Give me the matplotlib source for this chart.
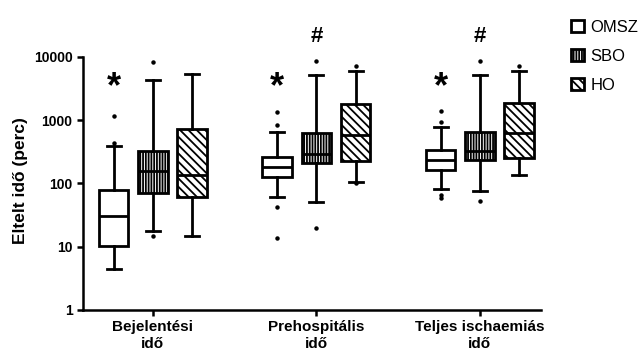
import matplotlib.pyplot as plt
from matplotlib.patches import Patch

plt.rcParams['font.family'] = ['Liberation Sans', 'DejaVu Sans']
plt.rcParams['hatch.linewidth'] = 1.3

# -------------------------
# Data
# -------------------------

categories = ["Bejelentési\nidő", "Prehospitális\nidő", "Teljes ischaemiás\nidő"]
groups = ["OMSZ", "SBO", "HO"]

# per category, per group: whisker low, Q1, median, Q3, whisker high
whislo = [[4.5, 17.7, 15], [61, 50, 107], [81, 76, 136]]
q1 = [[10.3, 70, 62], [128, 208, 227], [162, 235, 256]]
med = [[30, 158, 138], [184, 293, 585], [235, 330, 636]]
q3 = [[79, 330, 736], [260, 621, 1828], [335, 659, 1897]]
whishi = [[392, 4330, 5390], [645, 5130, 6010], [773, 5220, 6080]]
fliers = [
    [[442, 1167], [14.8, 8430], []],
    [[1365, 841, 43, 13.9], [8750, 19.6], [7200, 100.7]],
    [[1400, 927, 66.5, 59], [8750, 53.5], [7250]],
]

# significance marks: (category, group, symbol, y)
marks = [
    (0, 0, "*", 3200),
    (1, 0, "*", 3200),
    (2, 0, "*", 3200),
    (1, 1, "#", 21000),
    (2, 1, "#", 21000),
]

hatches = ["", "||||||", "\\\\\\\\"]
offsets = [-0.24, 0, 0.24]

# -------------------------
# Plot
# -------------------------

fig = plt.figure(figsize=(6.43, 3.53), dpi=100)
ax = fig.add_axes([0.129, 0.122, 0.712, 0.717])

lw = 2.0
for c in range(len(categories)):
    for g in range(len(groups)):
        stats = [{
            "whislo": whislo[c][g],
            "q1": q1[c][g],
            "med": med[c][g],
            "q3": q3[c][g],
            "whishi": whishi[c][g],
            "fliers": fliers[c][g],
        }]
        bp = ax.bxp(
            stats,
            positions=[c + 1 + offsets[g]],
            widths=0.18,
            capwidths=0.085,
            patch_artist=True,
            boxprops=dict(facecolor="white", edgecolor="black", linewidth=lw),
            medianprops=dict(color="black", linewidth=lw),
            whiskerprops=dict(color="black", linewidth=lw),
            capprops=dict(color="black", linewidth=lw),
            flierprops=dict(marker="o", markersize=2.2, markerfacecolor="black",
                            markeredgecolor="black"),
            manage_ticks=False,
        )
        bp["boxes"][0].set_hatch(hatches[g])

for c, g, sym, y in marks:
    ax.text(c + 1 + offsets[g], y, sym, ha="center", va="center",
            fontsize=26 if sym == "*" else 16, fontweight="bold", clip_on=False)

ax.set_yscale("log")
ax.set_ylim(1, 10000)
ax.set_yticks([1, 10, 100, 1000, 10000])
ax.set_yticklabels(["1", "10", "100", "1000", "10000"])
ax.minorticks_off()
ax.set_xlim(0.572, 3.373)
ax.set_xticks([1, 2, 3])
ax.set_xticklabels(categories, fontweight="bold", fontsize=11, linespacing=1.25)

for lbl in ax.get_yticklabels():
    lbl.set_fontweight("bold")
    lbl.set_fontsize(10)

ax.set_ylabel("Eltelt idő (perc)", fontweight="bold", fontsize=12.5)
ax.yaxis.set_label_coords(-0.12, 0.51)

ax.spines["top"].set_visible(False)
ax.spines["right"].set_visible(False)
ax.spines["left"].set_linewidth(1.8)
ax.spines["bottom"].set_linewidth(1.8)
ax.tick_params(width=1.8, length=4)

handles = [Patch(facecolor="white", edgecolor="black", linewidth=2.0, hatch=h)
           for h in hatches]
fig.legend(handles, groups, loc="upper left",
           bbox_to_anchor=(0.878, 0.963), frameon=False, fontsize=12,
           handlelength=0.75, handleheight=0.75, handletextpad=0.4,
           labelspacing=0.85, borderaxespad=0)

plt.savefig("out.png", dpi=100)
plt.close()
